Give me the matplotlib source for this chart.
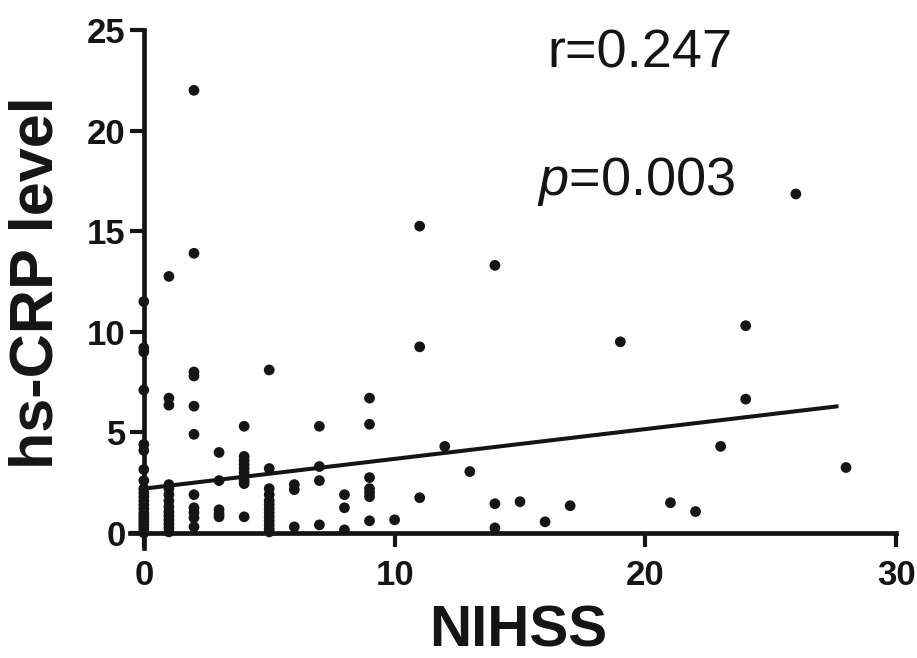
import matplotlib
matplotlib.use("Agg")
import matplotlib.pyplot as plt
import numpy as np

# NIHSS score and hs-CRP level for each patient
nihss = (
    [0] * 22 + [1] * 14 + [2] * 11 + [3] * 5 + [4] * 10 + [5] * 13 +
    [6] * 3 + [7] * 4 + [8] * 3 + [9] * 7 + [10] + [11] * 3 + [12] + [13] +
    [14] * 3 + [15] + [16] + [17] + [19] + [21] + [22] + [23] + [24] * 2 +
    [26] + [28]
)
hs_crp = (
    [11.5, 9.2, 9.0, 7.1, 4.4, 4.1, 3.15, 2.6, 2.2, 2.0, 1.8, 1.6, 1.4, 1.2,
     1.0, 0.85, 0.7, 0.55, 0.4, 0.25, 0.1, 0.0] +
    [12.75, 6.7, 6.35, 2.4, 2.2, 1.9, 1.6, 1.3, 1.05, 0.85, 0.65, 0.45, 0.25,
     0.05] +
    [22.0, 13.9, 8.0, 7.8, 6.3, 4.9, 1.9, 1.25, 1.0, 0.75, 0.3] +
    [4.0, 2.6, 1.15, 0.95, 0.8] +
    [5.3, 3.8, 3.6, 3.4, 3.2, 3.0, 2.8, 2.6, 2.45, 0.8] +
    [8.1, 3.2, 2.2, 1.9, 1.6, 1.4, 1.2, 1.0, 0.8, 0.6, 0.4, 0.2, 0.05] +
    [2.4, 2.15, 0.3] +
    [5.3, 3.3, 2.6, 0.4] +
    [1.9, 1.25, 0.15] +
    [6.7, 5.4, 2.75, 2.2, 2.0, 1.8, 0.6] +
    [0.65] +
    [15.25, 9.25, 1.75] +
    [4.3] +
    [3.05] +
    [13.3, 1.45, 0.25] +
    [1.55] + [0.55] + [1.35] + [9.5] + [1.5] + [1.06] + [4.3] +
    [10.3, 6.65] + [16.85] + [3.25]
)

# Linear fit shown on the plot
fit_intercept = 2.2
fit_slope = 0.148
fit_x = [0, 27.7]

r_text = "r=0.247"
p_value = "0.003"

x_ticks = [0, 10, 20, 30]
y_ticks = [0, 5, 10, 15, 20, 25]

ink = "#151515"
bold_family = ["Liberation Sans", "DejaVu Sans"]

plt.rcParams["mathtext.fontset"] = "custom"
plt.rcParams["mathtext.it"] = "Liberation Sans:italic"
plt.rcParams["mathtext.rm"] = "Liberation Sans"

fig = plt.figure(figsize=(9.17, 6.58), dpi=100)
ax = fig.add_axes([0.1418, 0.1672, 0.8355, 0.7872])

ax.scatter(nihss, hs_crp, s=60, color=ink, edgecolors="none", zorder=3,
           clip_on=False)

fx = np.array(fit_x, dtype=float)
ax.plot(fx, fit_intercept + fit_slope * fx, color=ink, lw=2.9,
        solid_capstyle="butt", zorder=2)

ax.set_xlim(-0.55, 30.0)
ax.set_ylim(-0.75, 25.0)

for side in ("top", "right"):
    ax.spines[side].set_visible(False)
ax.spines["left"].set_position(("data", 0))
ax.spines["bottom"].set_position(("data", 0))
for side in ("left", "bottom"):
    ax.spines[side].set_linewidth(3.4)
    ax.spines[side].set_color(ink)
    ax.spines[side].set_capstyle("projecting")

ax.set_xticks(x_ticks)
ax.set_yticks(y_ticks)
ax.tick_params(axis="both", direction="out", length=10, width=3.0,
               color=ink, labelcolor=ink)
ax.tick_params(axis="x", pad=9)
ax.tick_params(axis="y", pad=3)
for lab in ax.get_xticklabels() + ax.get_yticklabels():
    lab.set_family(bold_family)
    lab.set_fontweight("bold")
    lab.set_fontsize(25)

fig.text(0.040, 0.57, "hs-CRP level", rotation=90, ha="center", va="center",
         family=bold_family, fontweight="bold", fontsize=44, color=ink)
fig.text(0.565, 0.018, "NIHSS", ha="center", va="baseline",
         family=bold_family, fontweight="bold", fontsize=42, color=ink)

fig.text(547 / 917, 1 - 68 / 658, r_text, ha="left", va="baseline",
         family="Liberation Sans", fontsize=39, color=ink)
fig.text(537 / 917, 1 - 195 / 658, r"$p$=" + p_value, ha="left",
         va="baseline", family="Liberation Sans", fontsize=39, color=ink)

fig.savefig("out.png", dpi=100)
